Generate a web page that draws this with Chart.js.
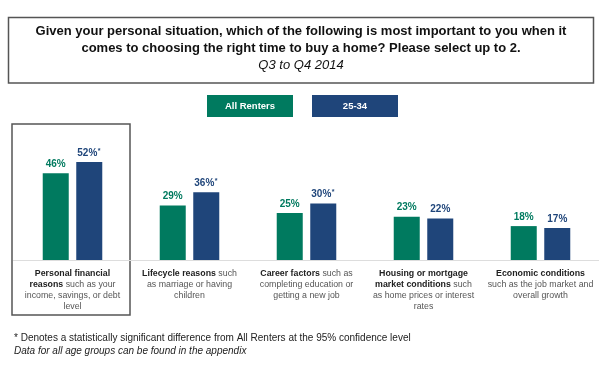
<!DOCTYPE html>
<html>
<head>
<meta charset="utf-8">
<script src="https://cdn.jsdelivr.net/npm/chart.js@4/dist/chart.umd.min.js"></script>
<style>
  html, body { margin: 0; padding: 0; background: #fff; }
  #wrap { width: 600px; height: 384px; position: relative; }
</style>
</head>
<body>
<div id="wrap"><canvas id="chart" width="600" height="384"></canvas></div>
<script>
var seriesNames = ['All Renters', '25-34'];
var allRenters = [46, 29, 25, 23, 18];
var age2534 = [52, 36, 30, 22, 17];
var significant = [true, true, true, false, false];
var categoryBold = ['Personal financial reasons', 'Lifecycle reasons', 'Career factors', 'Housing or mortgage market conditions', 'Economic conditions'];
var categoryLines = [
  ['Personal financial', 'reasons such as your', 'income, savings, or debt', 'level'],
  ['Lifecycle reasons such', 'as marriage or having', 'children'],
  ['Career factors such as', 'completing education or', 'getting a new job'],
  ['Housing or mortgage', 'market conditions such', 'as home prices or interest', 'rates'],
  ['Economic conditions', 'such as the job market and', 'overall growth']
];
var titleLines = ['Given your personal situation, which of the following is most important to you when it', 'comes to choosing the right time to buy a home? Please select up to 2.'];
var subtitle = 'Q3 to Q4 2014';
var footnotes = ['* Denotes a statistically significant difference from All Renters at the 95% confidence level', 'Data for all age groups can be found in the appendix'];

var GREEN = '#007A5F';
var BLUE = '#1F457A';
var FONT = 'Arial, "Liberation Sans", sans-serif';

var decorPlugin = {
  id: 'decor',
  beforeDraw: function (chart) {
    var ctx = chart.ctx;
    ctx.save();
    // title box
    ctx.strokeStyle = '#555';
    ctx.lineWidth = 1.5;
    ctx.strokeRect(8.5, 17.5, 585, 65.5);
    ctx.fillStyle = '#111';
    ctx.textAlign = 'center';
    ctx.textBaseline = 'middle';
    ctx.font = 'bold 13px ' + FONT;
    ctx.fillText(titleLines[0], 301, 31);
    ctx.fillText(titleLines[1], 301, 48);
    ctx.font = 'italic 13px ' + FONT;
    ctx.fillText(subtitle, 301, 65);

    // legend boxes
    var legendBoxes = [[207, GREEN], [312, BLUE]];
    ctx.font = 'bold 9.5px ' + FONT;
    legendBoxes.forEach(function (b, i) {
      ctx.fillStyle = b[1];
      ctx.fillRect(b[0], 95, 86, 22);
      ctx.fillStyle = '#fff';
      ctx.fillText(seriesNames[i], b[0] + 43, 106.5);
    });

    // highlight box around first category
    ctx.strokeStyle = '#555';
    ctx.lineWidth = 1.5;
    ctx.strokeRect(12, 124, 118, 191);

    // baseline
    var area = chart.chartArea;
    ctx.strokeStyle = '#ddd';
    ctx.lineWidth = 1;
    ctx.beginPath();
    ctx.moveTo(area.left - 1, area.bottom + 0.5);
    ctx.lineTo(area.right, area.bottom + 0.5);
    ctx.stroke();

    // footnotes
    ctx.textAlign = 'left';
    ctx.fillStyle = '#222';
    ctx.font = '10px ' + FONT;
    ctx.fillText(footnotes[0], 14, 338);
    ctx.font = 'italic 10px ' + FONT;
    ctx.fillText(footnotes[1], 14, 351);
    ctx.restore();
  },
  afterDatasetsDraw: function (chart) {
    var ctx = chart.ctx;
    var xScale = chart.scales.x;
    ctx.save();
    ctx.textBaseline = 'middle';

    // value labels
    chart.data.datasets.forEach(function (ds, di) {
      chart.getDatasetMeta(di).data.forEach(function (bar, i) {
        var txt = ds.data[i] + '%';
        var star = di === 1 && significant[i];
        ctx.font = 'bold 10px ' + FONT;
        var w = ctx.measureText(txt).width;
        var sw = star ? 4 : 0;
        var x0 = bar.x - (w + sw) / 2;
        ctx.fillStyle = ds.backgroundColor;
        ctx.textAlign = 'left';
        ctx.fillText(txt, x0, bar.y - 9);
        if (star) {
          ctx.font = 'bold 7px ' + FONT;
          ctx.fillText('*', x0 + w + 0.5, bar.y - 11);
        }
      });
    });

    // category labels with bold lead-in
    categoryLines.forEach(function (lines, ci) {
      var cx = xScale.getPixelForValue(ci);
      var boldLen = categoryBold[ci].length;
      var offset = 0;
      lines.forEach(function (line, li) {
        var nb = Math.max(0, Math.min(line.length, boldLen - offset));
        var bPart = line.slice(0, nb);
        var rPart = line.slice(nb);
        ctx.font = 'bold 8.8px ' + FONT;
        var bw = ctx.measureText(bPart).width;
        ctx.font = '8.8px ' + FONT;
        var rw = ctx.measureText(rPart).width;
        var x = cx - (bw + rw) / 2;
        var y = 273.5 + li * 11;
        ctx.textAlign = 'left';
        ctx.font = 'bold 8.8px ' + FONT;
        ctx.fillStyle = '#222';
        ctx.fillText(bPart, x, y);
        ctx.font = '8.8px ' + FONT;
        ctx.fillStyle = '#555';
        ctx.fillText(rPart, x + bw, y);
        offset += line.length + 1;
      });
    });
    ctx.restore();
  }
};

new Chart(document.getElementById('chart').getContext('2d'), {
  type: 'bar',
  data: {
    labels: categoryBold,
    datasets: [
      { label: seriesNames[0], data: allRenters, backgroundColor: GREEN },
      { label: seriesNames[1], data: age2534, backgroundColor: BLUE }
    ]
  },
  options: {
    responsive: false,
    animation: false,
    layout: { padding: { left: 14, right: 1, top: 147, bottom: 124 } },
    datasets: { bar: { categoryPercentage: 0.573, barPercentage: 0.776 } },
    plugins: { legend: { display: false }, tooltip: { enabled: false } },
    scales: {
      x: { display: false },
      y: { display: false, min: 0, max: 60 }
    }
  },
  plugins: [decorPlugin]
});
</script>
</body>
</html>
